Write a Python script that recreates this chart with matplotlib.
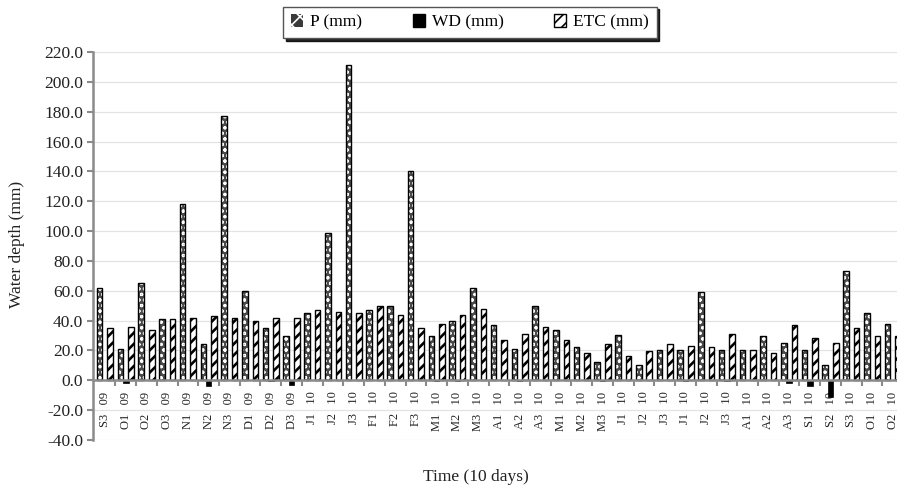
import numpy as np
import matplotlib
matplotlib.use("Agg")
import matplotlib.pyplot as plt
from matplotlib.patches import Patch

plt.rcParams['font.family'] = ['Liberation Serif', 'DejaVu Serif']

# 10-day periods, Sep 2009 - Oct 2010
periods = ['S3', 'O1', 'O2', 'O3', 'N1', 'N2', 'N3', 'D1', 'D2', 'D3',
           'J1', 'J2', 'J3', 'F1', 'F2', 'F3', 'M1', 'M2', 'M3', 'A1',
           'A2', 'A3', 'M1', 'M2', 'M3', 'J1', 'J2', 'J3', 'J1', 'J2',
           'J3', 'A1', 'A2', 'A3', 'S1', 'S2', 'S3', 'O1', 'O2']
years = ['09'] * 10 + ['10'] * 29

p_mm = [62, 21, 65, 41, 118, 24, 177, 60, 35, 30,
        45, 99, 211, 47, 49.5, 140, 30, 40, 62, 37,
        21, 50, 33.5, 22, 12.5, 30.5, 10.5, 20, 20, 59,
        20, 20, 30, 25, 20, 10.5, 73, 45, 38]
wd_mm = [0, -2, 0, 0, 0, -4, 0, 0, -0.8, -3,
         0, 0, 0, 0, 0, 0, -0.8, -0.8, 0, 0,
         -0.8, 0, 0, 0, -0.8, 0, 0, 0, -0.8, 0,
         -0.8, 0, 0, -2, -4, -11, 0, 0, 0]
etc_mm = [35, 36, 34, 41, 42, 43, 42, 40, 42, 42,
          47, 46, 45, 49.5, 44, 35, 38, 44, 48, 27,
          31, 36, 27, 18, 24, 16.5, 19.5, 24, 23, 22,
          31, 20, 18.5, 37, 28.5, 25, 35, 29.5, 30]

labels = [p + '   ' + y for p, y in zip(periods, years)]
x = np.arange(len(periods))
w = 0.27
off = 0.255

fig = plt.figure(figsize=(8.97, 4.88), dpi=100)
ax = fig.add_axes([0.1042, 0.0984, 0.8957, 0.795])

# spines first (moving the spine resets the ticks)
for s in ['top', 'right']:
    ax.spines[s].set_visible(False)
ax.spines['bottom'].set_position(('data', 0))
ax.spines['bottom'].set_color('#8a8a8a')
ax.spines['bottom'].set_linewidth(1.8)
ax.spines['bottom'].set_zorder(5)
ax.spines['left'].set_color('#8a8a8a')
ax.spines['left'].set_linewidth(1.8)

# P bars: dark fill with white dots, black outline
plt.rcParams['hatch.linewidth'] = 0.8
p_bars = ax.bar(x - off, p_mm, w, color='#4a4a4a', edgecolor='white', hatch='ooo',
                linewidth=0, zorder=3)
ax.bar(x - off, p_mm, w, facecolor='none', edgecolor='black', linewidth=1.0,
       zorder=4)
# WD bars
ax.bar(x, wd_mm, w, color='black', edgecolor='black', linewidth=0.5, zorder=3)
# ETC bars: white with thick black diagonals
plt.rcParams['hatch.linewidth'] = 1.9
etc_bars = ax.bar(x + off, etc_mm, w, color='white', edgecolor='black', hatch='///',
                  linewidth=1.0, zorder=3)

ax.set_xlim(-0.555, 38.2)
ax.set_ylim(-40, 220)
ax.set_yticks(np.arange(-40, 221, 20))
ax.set_yticklabels(['%.1f' % v for v in np.arange(-40, 221, 20)])
ax.yaxis.grid(True, color='#e3e3e3', linewidth=0.9, zorder=0)
ax.set_axisbelow(True)

ax.set_xticks(x)
ax.set_xticklabels(labels, rotation=90, fontsize=9, color='#222222')
ax.set_xticks(x[:-1] + 0.5, minor=True)
ax.tick_params(axis='x', which='major', length=0, pad=8)
ax.tick_params(axis='x', which='minor', length=4, width=1.5, color='#8a8a8a')
ax.tick_params(axis='y', length=4, width=1.5, color='#8a8a8a',
               labelsize=12.5, labelcolor='#222222')

fig.text(0.019, 0.50, 'Water depth (mm)', rotation=90, ha='center',
         va='center', fontsize=12.5, color='#222222')
fig.text(0.531, 0.022, 'Time (10 days)', ha='center', va='center',
         fontsize=12.5, color='#222222')

plt.rcParams['hatch.linewidth'] = 1.2
handles = [Patch(facecolor='#3a3a3a', edgecolor='white', hatch='xx', linewidth=0),
           Patch(facecolor='black', edgecolor='black'),
           etc_bars[0]]
leg = fig.legend(handles, ['P (mm)', 'WD (mm)', 'ETC (mm)'], ncol=3,
                 loc='center', bbox_to_anchor=(0.524, 0.954), fontsize=12.5,
                 frameon=True, fancybox=False, shadow={'color': 'black', 'alpha': 0.85},
                 handlelength=0.7, handleheight=0.7, handletextpad=0.4,
                 columnspacing=2.9, borderpad=0.45)
leg.get_frame().set_edgecolor('#555555')
leg.get_frame().set_linewidth(1.0)

fig.savefig('out.png', dpi=100)
